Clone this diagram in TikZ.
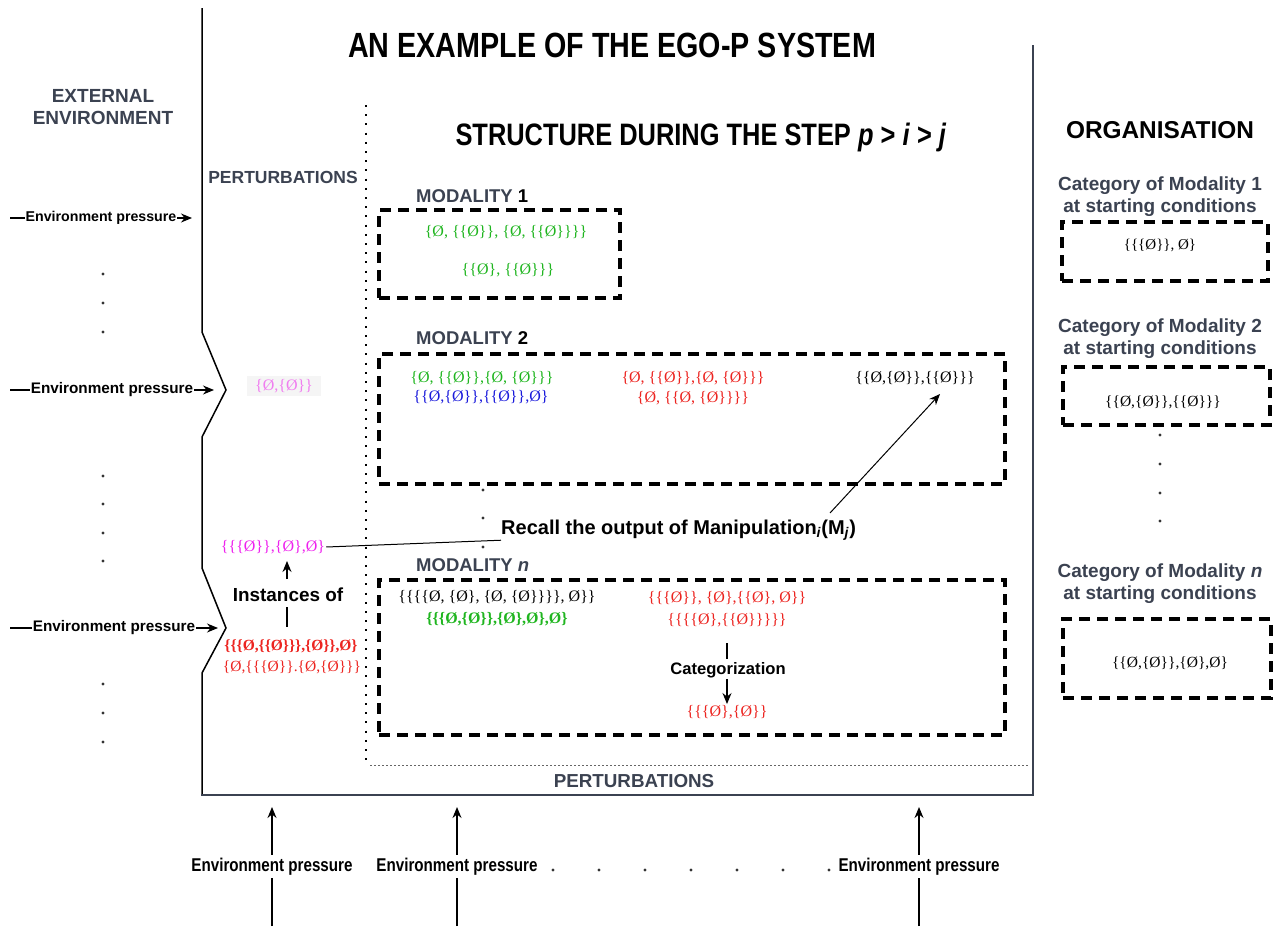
\documentclass[tikz,border=0pt]{standalone}
\usepackage{fontspec}
\setmainfont{Liberation Sans}
\newfontfamily\narrowf[FakeStretch=0.82]{Liberation Sans}
\newfontfamily\setf{Liberation Serif}
\usetikzlibrary{arrows.meta}
\newcommand{\myfs}[2]{\fontsize{#1}{#2}\selectfont}
\definecolor{slate}{HTML}{3B4251}
\definecolor{sgreen}{HTML}{1FB51F}
\definecolor{sblue}{HTML}{1A1ADB}
\definecolor{sred}{HTML}{EC2420}
\definecolor{smag}{HTML}{EE22EE}
\definecolor{spink}{HTML}{F07EF0}
\tikzset{
  dbox/.style={draw=black, line width=3.6pt, dash pattern=on 11pt off 7pt, rectangle, inner sep=0pt},
  setx/.style={font=\setf\myfs{16}{17}, inner sep=1pt},
  grey/.style={font=\bfseries\myfs{#1}{#1}, text=slate, inner sep=1pt},
  blk/.style={font=\bfseries\myfs{#1}{#1}, text=black, inner sep=1pt},
  envl/.style={font=\bfseries\myfs{#1}{#1}, fill=white, inner xsep=1pt, inner ysep=1pt},
  envb/.style={font=\narrowf\bfseries\myfs{18.5}{18.5}, fill=white, inner xsep=2pt, inner ysep=3pt},
  arr/.style={line width=1.2pt, -{Stealth[length=11pt,width=9pt]}},
  dot/.style={fill=black!80}
}
\begin{document}
\begin{tikzpicture}[x=1pt,y=-1pt]
\useasboundingbox (0,0) rectangle (1284,926);

% system boundary
\draw[line width=1.5pt] (202,8) -- (202,332) -- (226,390) -- (202,437) -- (202,568) -- (226,628) -- (202,673) -- (202,795);
\draw[line width=2pt, draw=slate] (201,795) -- (1033,795) -- (1033,45);

% perturbation dotted borders
\draw[line width=2pt, dash pattern=on 2pt off 7.2pt] (366,105) -- (366,765);
\draw[line width=1pt, draw=black!60, dash pattern=on 2pt off 2pt] (370,765) -- (1028,765);

% titles
\node[font=\narrowf\bfseries\myfs{35}{35}, inner sep=0pt] (title) at (612,45) {AN EXAMPLE OF THE EGO-P SYSTEM};
\node[grey=19, align=center, font=\bfseries\myfs{19}{22}] (ext) at (103,107) {EXTERNAL\\ENVIRONMENT};
\node[grey=17.5] (pertl) at (283,177) {PERTURBATIONS};
\node[font=\narrowf\bfseries\myfs{31}{31}, inner sep=0pt] (struct) at (701,137) {STRUCTURE DURING THE STEP \textit{p} > \textit{i} > \textit{j}};
\node[blk=24.4] (org) at (1160,130) {ORGANISATION};
\node[grey=18.8] (pertb) at (634,781) {PERTURBATIONS};

% modality labels and boxes
\node[grey=18.5, anchor=west] (lm1) at (415,196) {MODALITY {\color{black}1}};
\node[grey=18.5, anchor=west] (lm2) at (415,338) {MODALITY {\color{black}2}};
\node[grey=18.5, anchor=west] (lmn) at (415,565) {MODALITY \textit{n}};
\node[dbox, minimum width=241pt, minimum height=88pt] (m1) at (499.5,254) {};
\node[dbox, minimum width=626pt, minimum height=130pt] (m2) at (692,419) {};
\node[dbox, minimum width=626pt, minimum height=155pt] (mn) at (692,657.5) {};

% modality 1 sets
\node[setx, text=sgreen] (a1) at (506,232) {\{Ø, \{\{Ø\}\}, \{Ø, \{\{Ø\}\}\}\}};
\node[setx, text=sgreen] (a2) at (508,270) {\{\{Ø\}, \{\{Ø\}\}\}};
% modality 2 sets
\node[setx, text=sgreen] (b1) at (482,378) {\{Ø, \{\{Ø\}\},\{Ø, \{Ø\}\}\}};
\node[setx, text=sblue] (b2) at (481,397) {\{\{Ø,\{Ø\}\},\{\{Ø\}\},Ø\}};
\node[setx, text=sred] (b3) at (693,378) {\{Ø, \{\{Ø\}\},\{Ø, \{Ø\}\}\}};
\node[setx, text=sred] (b4) at (693,398) {\{Ø, \{\{Ø, \{Ø\}\}\}\}};
\node[setx, text=black] (b5) at (915,378) {\{\{Ø,\{Ø\}\},\{\{Ø\}\}\}};
% modality n sets
\node[setx, text=black] (c1) at (497,597) {\{\{\{\{Ø, \{Ø\}, \{Ø, \{Ø\}\}\}\}, Ø\}\}};
\node[setx, text=sgreen, font=\setf\bfseries\myfs{16}{17}] (c2) at (497,619) {\{\{\{Ø,\{Ø\}\},\{Ø\},Ø\},Ø\}};
\node[setx, text=sred] (c3) at (727,598) {\{\{\{Ø\}\}, \{Ø\},\{\{Ø\}, Ø\}\}};
\node[setx, text=sred] (c4) at (727,620) {\{\{\{\{Ø\},\{\{Ø\}\}\}\}\}};
\node[blk=16.6] (cat) at (728,670) {Categorization};
\node[setx, text=sred] (c5) at (727,712) {\{\{\{Ø\},\{Ø\}\}};
\draw[line width=1.1pt] (c4.south |- 0,643) -- (c4.south |- 0,659);
\draw[arr] (cat.south -| c5.north) -- (c5.north);

% left column sets
\node[setx, text=spink, fill=black!4, inner xsep=8pt, inner ysep=3pt] (p1) at (284,386) {\{Ø,\{Ø\}\}};
\node[setx, text=smag] (p2) at (273,547) {\{\{\{Ø\}\},\{Ø\},Ø\}};
\node[blk=18.9] (inst) at (288,595) {Instances of};
\node[setx, text=sred, font=\setf\bfseries\myfs{15.5}{17}] (r1) at (291,646) {\{\{\{Ø,\{\{Ø\}\}\},\{Ø\}\},Ø\}};
\node[setx, text=sred, font=\setf\myfs{15.5}{17}] (r2) at (292,667) {\{Ø,\{\{\{Ø\}\}.\{Ø,\{Ø\}\}\}};
\draw[arr] (287,579) -- (287,561);
\draw[line width=1.1pt] (287,607) -- (287,627);

% recall
\node[blk=20, anchor=base west, inner sep=0pt] (recall) at (501,534) {Recall the output of Manipulation\textsubscript{\textit{i}}(M\textsubscript{\textit{j}})};
\draw[line width=1pt] (p2.east) -- (recall.south west);
\coordinate (rs) at (830,513);
\coordinate (rt) at (940,394);
\draw[arr, line width=1pt] (rs) -- (rt);

% vertical dots between modalities
\foreach \y in {490,518,547} \fill[dot] (483,\y) circle (1.6pt);

% organisation
\node[grey=19, align=center, font=\bfseries\myfs{19}{22}] (o1) at (1160,197) {Category of Modality 1\\at starting conditions};
\node[dbox, minimum width=206pt, minimum height=59pt] (ob1) at (1165,251.5) {};
\node[setx, text=black, font=\setf\myfs{15}{17}] (os1) at (1160,245) {\{\{\{Ø\}\}, Ø\}};
\node[grey=19, align=center, font=\bfseries\myfs{19}{22}] (o2) at (1160,339) {Category of Modality 2\\at starting conditions};
\node[dbox, minimum width=207pt, minimum height=58pt] (ob2) at (1166.5,396) {};
\node[setx, text=black, font=\setf\myfs{15.5}{17}] (os2) at (1163,402) {\{\{Ø,\{Ø\}\},\{\{Ø\}\}\}};
\foreach \y in {435,464,493,521} \fill[dot] (1160,\y) circle (1.6pt);
\node[grey=19, align=center, font=\bfseries\myfs{19}{22}] (o3) at (1160,584) {Category of Modality \textit{n}\\at starting conditions};
\node[dbox, minimum width=208pt, minimum height=79pt] (ob3) at (1167,658.5) {};
\node[setx, text=black, font=\setf\myfs{15.5}{17}] (os3) at (1170,663) {\{\{Ø,\{Ø\}\},\{Ø\},Ø\}};

% left environment pressures
\coordinate (e1s) at (10,218); \coordinate (e1e) at (192,218);
\coordinate (e2s) at (10,390); \coordinate (e2e) at (214,390);
\coordinate (e3s) at (10,628); \coordinate (e3e) at (218,628);
\draw[arr] (e1s) -- node[envl=14.2] (el1) {Environment pressure} (e1e);
\draw[arr] (e2s) -- node[envl=15.3] (el2) {Environment pressure} (e2e);
\draw[arr] (e3s) -- node[envl=15.3] (el3) {Environment pressure} (e3e);
\foreach \y in {274,303,332,476,504,533,561,684,713,742} \fill[dot] (103,\y) circle (1.6pt);

% bottom environment pressures
\coordinate (b1s) at (272,926); \coordinate (b1e) at (272,807);
\coordinate (b2s) at (457,926); \coordinate (b2e) at (457,807);
\coordinate (b3s) at (919,926); \coordinate (b3e) at (919,807);
\draw[arr] (b1s) -- node[envb] (eb1) {Environment pressure} (b1e);
\draw[arr] (b2s) -- node[envb] (eb2) {Environment pressure} (b2e);
\draw[arr] (b3s) -- node[envb] (eb3) {Environment pressure} (b3e);
\foreach \x in {553,599,645,691,737,783,829} \fill[dot] (\x,870) circle (1.6pt);
\end{tikzpicture}
\end{document}
